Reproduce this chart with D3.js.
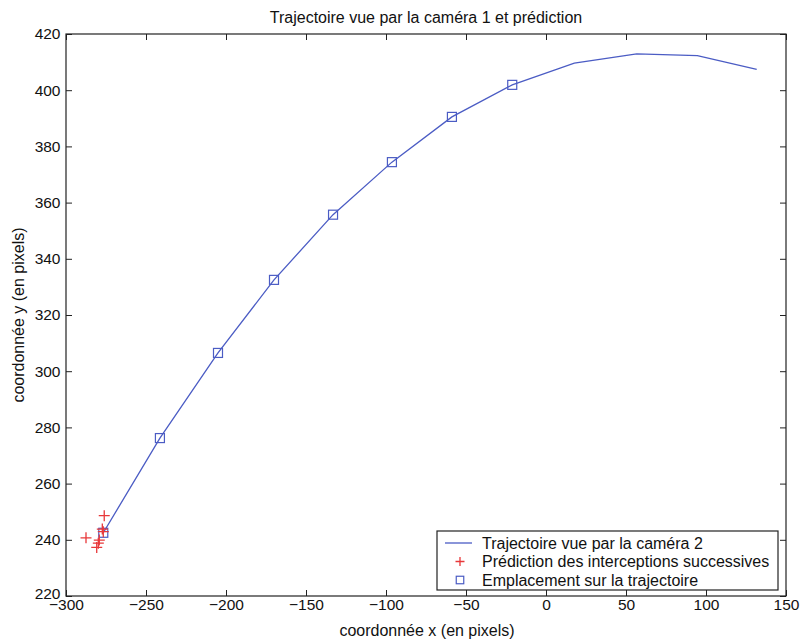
<!DOCTYPE html>
<html>
<head>
<meta charset="utf-8">
<script src="https://cdn.jsdelivr.net/npm/d3@7"></script>
<style>
  html, body { margin: 0; padding: 0; background: #fff; }
  svg text { font-family: "Liberation Sans", Arial, Helvetica, sans-serif; fill: #111; }
</style>
</head>
<body>
<svg id="chart" width="800" height="640"></svg>
<script>
// Trajectory seen by camera 2 (x, y in pixels)
const trajX = [-276.7, -241.3, -205.0, -170.0, -133.1, -96.3, -58.8, -21.1, 17.7, 56.7, 94.6, 131.7];
const trajY = [242.5, 276.2, 306.5, 332.5, 355.7, 374.4, 390.5, 401.9, 409.6, 412.9, 412.3, 407.4];

// Positions marked on the trajectory (squares)
const markX = [-276.7, -241.3, -205.0, -170.0, -133.1, -96.3, -58.8, -21.1];
const markY = [242.5, 276.2, 306.5, 332.5, 355.7, 374.4, 390.5, 401.9];

// Successive interception predictions (red crosses)
const predX = [-276.1, -277.3, -276.7, -287.5, -279.2, -279.8, -280.8];
const predY = [248.6, 243.8, 242.9, 240.7, 239.9, 238.8, 237.3];

const xTicks = [-300, -250, -200, -150, -100, -50, 0, 50, 100, 150];
const yTicks = [220, 240, 260, 280, 300, 320, 340, 360, 380, 400, 420];

const titleText = "Trajectoire vue par la caméra 1 et prédiction";
const xLabel = "coordonnée x (en pixels)";
const yLabel = "coordonnée y (en pixels)";
const legendLabels = [
  "Trajectoire vue par la caméra 2",
  "Prédiction des interceptions successives",
  "Emplacement sur la trajectoire"
];

const blue = "#4b5cc4";
const red = "#e8383a";

const svg = d3.select("#chart");
const plotL = 66, plotR = 786, plotT = 34, plotB = 596;

const x = d3.scaleLinear().domain([-300, 150]).range([plotL, plotR]);
const y = d3.scaleLinear().domain([220, 420]).range([plotB, plotT]);

const tickLen = 6;

// Axes with inward ticks on all four sides
function styleAxis(g) {
  g.select(".domain").remove();
  g.selectAll(".tick line").attr("stroke", "#222").attr("stroke-width", 1);
  g.selectAll(".tick text").style("font-size", "15.5px").attr("fill", "#111");
}

svg.append("g").attr("transform", `translate(0,${plotB})`)
  .call(d3.axisBottom(x).tickValues(xTicks).tickSizeInner(-tickLen).tickSizeOuter(0)
    .tickFormat(d => d < 0 ? "\u2212" + Math.abs(d) : d))
  .call(styleAxis)
  .selectAll(".tick text").attr("dy", "0.71em").attr("y", 3);

svg.append("g").attr("transform", `translate(0,${plotT})`)
  .call(d3.axisTop(x).tickValues(xTicks).tickSizeInner(-tickLen).tickSizeOuter(0).tickFormat(""))
  .call(styleAxis);

svg.append("g").attr("transform", `translate(${plotL},0)`)
  .call(d3.axisLeft(y).tickValues(yTicks).tickSizeInner(-tickLen).tickSizeOuter(0))
  .call(styleAxis)
  .selectAll(".tick text")
  .attr("x", -5.5)
  // lowest label sits just above the corner so it clears the x labels
  .attr("y", d => d === 220 ? -2.5 : 0);

svg.append("g").attr("transform", `translate(${plotR},0)`)
  .call(d3.axisRight(y).tickValues(yTicks).tickSizeInner(-tickLen).tickSizeOuter(0).tickFormat(""))
  .call(styleAxis);

// Box around plot area
svg.append("rect")
  .attr("x", plotL).attr("y", plotT)
  .attr("width", plotR - plotL).attr("height", plotB - plotT)
  .attr("fill", "none").attr("stroke", "#222").attr("stroke-width", 1.2);

// Trajectory line
const traj = trajX.map((v, i) => [v, trajY[i]]);
svg.append("path")
  .datum(traj)
  .attr("fill", "none")
  .attr("stroke", blue)
  .attr("stroke-width", 1.3)
  .attr("d", d3.line().x(d => x(d[0])).y(d => y(d[1])));

// Squares on the trajectory
const sq = 9;
svg.append("g").selectAll("rect")
  .data(markX.map((v, i) => [v, markY[i]]))
  .join("rect")
  .attr("x", d => x(d[0]) - sq / 2)
  .attr("y", d => y(d[1]) - sq / 2)
  .attr("width", sq).attr("height", sq)
  .attr("fill", "none").attr("stroke", blue).attr("stroke-width", 1.2);

// Red crosses for predictions
const plusPath = (cx, cy, h) => `M${cx - h},${cy}H${cx + h}M${cx},${cy - h}V${cy + h}`;
svg.append("g").selectAll("path")
  .data(predX.map((v, i) => [v, predY[i]]))
  .join("path")
  .attr("d", d => plusPath(x(d[0]), y(d[1]), 5.5))
  .attr("stroke", red).attr("stroke-width", 1.3).attr("fill", "none");

// Title and axis labels
svg.append("text").attr("x", 426).attr("y", 23)
  .attr("text-anchor", "middle").style("font-size", "16px").text(titleText);
svg.append("text").attr("x", 427).attr("y", 636)
  .attr("text-anchor", "middle").style("font-size", "16px").text(xLabel);
svg.append("text")
  .attr("transform", `translate(24,${(plotT + plotB) / 2}) rotate(-90)`)
  .attr("text-anchor", "middle").style("font-size", "16px").text(yLabel);

// Legend
const lg = svg.append("g");
const lgX = 437, lgY = 531, lgW = 341, lgH = 59;
lg.append("rect").attr("x", lgX).attr("y", lgY).attr("width", lgW).attr("height", lgH)
  .attr("fill", "#fff").attr("stroke", "#222").attr("stroke-width", 1.2);
const rowY = [543, 561.5, 580];
const symX = 460;
lg.append("line").attr("x1", 445).attr("x2", 472).attr("y1", rowY[0]).attr("y2", rowY[0])
  .attr("stroke", blue).attr("stroke-width", 1.3);
lg.append("path").attr("d", plusPath(symX, rowY[1], 4.5)).attr("stroke", red).attr("stroke-width", 1.3);
const lsq = 7.5;
lg.append("rect").attr("x", symX - lsq / 2).attr("y", rowY[2] - lsq / 2).attr("width", lsq).attr("height", lsq)
  .attr("fill", "none").attr("stroke", blue).attr("stroke-width", 1.2);
lg.selectAll("text.lbl").data(legendLabels).join("text")
  .attr("class", "lbl")
  .attr("x", 482).attr("y", (d, i) => rowY[i])
  .attr("dy", "0.35em").style("font-size", "16px").text(d => d);
</script>
</body>
</html>
